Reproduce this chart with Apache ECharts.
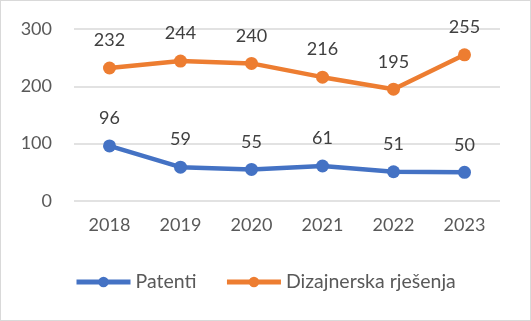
<!DOCTYPE html>
<html><head><meta charset="utf-8">
<script src="https://cdn.jsdelivr.net/npm/echarts@6/dist/echarts.min.js"></script>
<style>html,body{margin:0;padding:0;background:#fff}#c{width:531px;height:321px;box-sizing:border-box;border:1px solid #d9d9d9}</style>
</head><body><div id="c"></div>
<script>
const categories = ['2018','2019','2020','2021','2022','2023'];
const patenti = [96,59,55,61,51,50];
const dizajn = [232,244,240,216,195,255];
const yTicks = [0,100,200,300];
const chart = echarts.init(document.getElementById('c'));
const font = 'Lato, "Open Sans", sans-serif';
function ser(name, data, color){
  return {name, type:'line', data, symbol:'circle', symbolSize:13,
    lineStyle:{width:4.5,color}, itemStyle:{color},
    label:{show:true, position:'top', distance:12, fontSize:18, color:'#404040', fontFamily:font}};
}
chart.setOption({
  animation:false,
  grid:{left:73, right:30, top:28, bottom:119},
  xAxis:{type:'category', data:categories, boundaryGap:true,
    axisLine:{show:false}, axisTick:{show:false},
    axisLabel:{fontSize:18, color:'#595959', fontFamily:font, margin:15}},
  yAxis:{type:'value', min:0, max:300, interval:100,
    axisLabel:{fontSize:18, color:'#595959', fontFamily:font, margin:22, formatter:v=>yTicks.includes(v)?String(v):''},
    splitLine:{lineStyle:{color:'#d9d9d9', width:1.5}}},
  legend:{bottom:23, left:68, itemWidth:54, itemHeight:13, itemGap:28,
    lineStyle:{width:5},
    textStyle:{fontSize:19.5, color:'#595959', fontFamily:font}},
  series:[ser('Patenti', patenti, '#4472C4'), ser('Dizajnerska rješenja', dizajn, '#ED7D31')]
});
</script></body></html>
